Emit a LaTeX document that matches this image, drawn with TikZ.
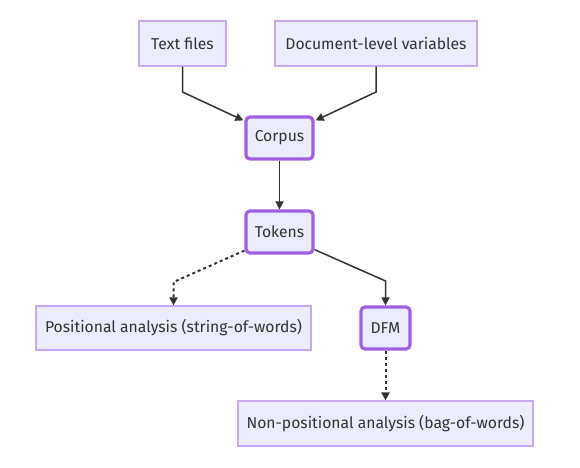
\documentclass[tikz,border=0pt]{standalone}
\usepackage{fontspec}
\setmainfont{Fira Sans}
\usetikzlibrary{arrows.meta}
\definecolor{nfill}{HTML}{ECECFF}
\definecolor{nthin}{HTML}{C8A8F0}
\definecolor{nthick}{HTML}{9F5FE0}
\definecolor{ink}{HTML}{333333}
\tikzset{
  x=1pt,y=-1pt,
  thinbox/.style={draw=nthin,fill=nfill,line width=1.2pt,text=ink,font=\fontsize{15.7}{18}\selectfont,inner sep=0pt,anchor=center},
  thickbox/.style={draw=nthick,fill=nfill,line width=3.2pt,rounded corners=4pt,text=ink,font=\fontsize{15.7}{18}\selectfont,inner sep=0pt,anchor=center},
  conn/.style={draw=ink,line width=1.5pt,-{Triangle[length=8pt,width=8pt]}},
  dconn/.style={conn,line width=2pt,dash pattern=on 3pt off 3pt},
}
\begin{document}
\begin{tikzpicture}
\useasboundingbox (0,0) rectangle (580,467);
\node[thinbox,minimum width=87pt,minimum height=45pt] (tf) at (182.5,43.5) {Text files};
\node[thinbox,minimum width=202pt,minimum height=45pt] (dv) at (376,43.5) {Document-level variables};
\node[thickbox,minimum width=67pt,minimum height=42pt] (co) at (279.5,138) {Corpus};
\node[thickbox,minimum width=67pt,minimum height=42pt] (tk) at (279.5,232) {Tokens};
\node[thinbox,minimum width=275pt,minimum height=44pt] (pa) at (173.5,328) {Positional analysis (string-of-words)};
\node[thickbox,minimum width=49pt,minimum height=42pt] (df) at (385.5,328) {DFM};
\node[thinbox,minimum width=295pt,minimum height=45pt] (np) at (385.5,423.5) {Non-positional analysis (bag-of-words)};
\coordinate (c1) at (182.5,92);
\coordinate (c2) at (376,92);
\coordinate (c3) at (173.5,282);
\coordinate (c4) at (385.5,281);
\draw[conn] (tf.south) -- (c1) -- ([xshift=-1pt,yshift=-5pt]co.north west);
\draw[conn] (dv.south) -- (c2) -- ([xshift=1pt,yshift=-5pt]co.north east);
\draw[conn] (co.south) -- (tk.north);
\draw[dconn] ([yshift=4pt]tk.south west) -- (c3) -- (pa.north);
\draw[conn] ([yshift=5pt]tk.south east) -- (c4) -- (df.north);
\draw[dconn] (df.south) -- (np.north);
\end{tikzpicture}
\end{document}
